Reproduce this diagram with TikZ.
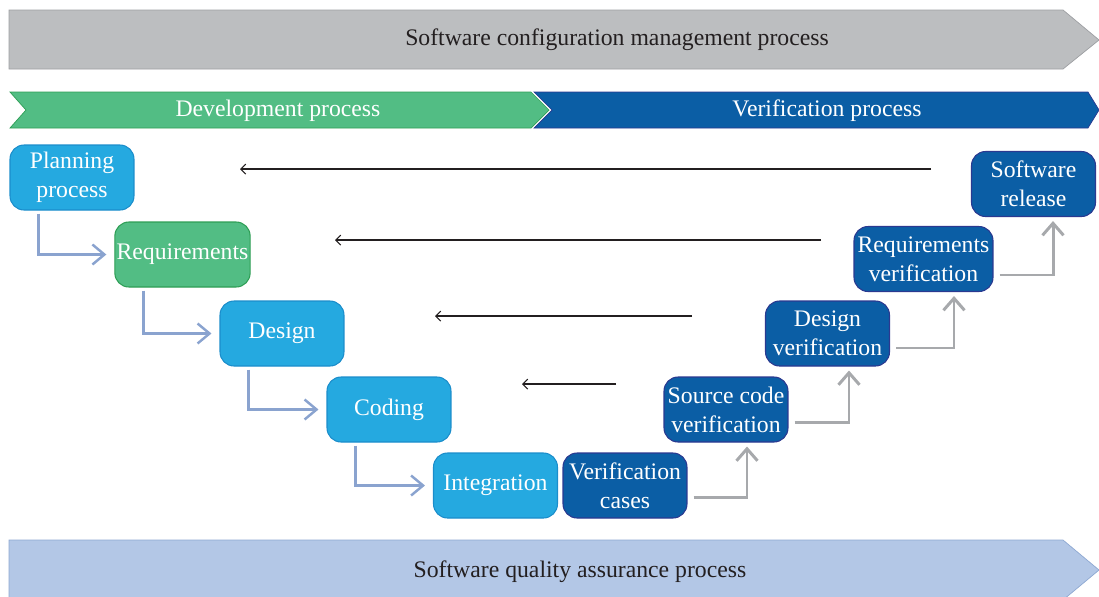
\documentclass[tikz,border=0pt]{standalone}
\usepackage{fontspec}
\setmainfont{Liberation Serif}
\usetikzlibrary{arrows.meta}
\definecolor{cfgGray}{HTML}{BCBEC0}
\definecolor{cfgGrayEdge}{HTML}{9D9FA2}
\definecolor{devGreen}{HTML}{52BD84}
\definecolor{devGreenEdge}{HTML}{2E9E55}
\definecolor{devCyan}{HTML}{25A9E0}
\definecolor{devCyanEdge}{HTML}{1B8DCB}
\definecolor{verBlue}{HTML}{0B5EA5}
\definecolor{verBlueEdge}{HTML}{2B3990}
\definecolor{sqaBlue}{HTML}{B3C7E6}
\definecolor{sqaBlueEdge}{HTML}{8EA8D2}
\definecolor{linkBlue}{HTML}{8AA3CF}
\definecolor{linkGray}{HTML}{A7A9AC}
\definecolor{inkBlack}{HTML}{231F20}

\begin{document}
\begin{tikzpicture}[x=0.02cm, y=-0.02cm, font=\fontsize{13.5}{16.5}\selectfont,
Box/.style={draw, rounded corners=0.28cm, line width=0.6pt, text=white, align=center, minimum width=2.48cm, minimum height=1.3cm, inner sep=1pt},
DevBox/.style={Box, fill=devCyan, draw=devCyanEdge},
ReqBox/.style={Box, fill=devGreen, draw=devGreenEdge},
VerBox/.style={Box, fill=verBlue, draw=verBlueEdge},
DevLink/.style={draw=linkBlue, line width=1.4pt, -{Straight Barb[length=0.24cm, width=0.4cm]}},
VerLink/.style={draw=linkGray, line width=1.7pt, -{Straight Barb[length=0.24cm, width=0.42cm]}},
BackArrow/.style={draw=inkBlack, line width=0.6pt, -{Straight Barb[length=0.1cm, width=0.2cm]}}]
\useasboundingbox (0,0) rectangle (1099,596);

% process banners
\path [fill=cfgGray, draw=cfgGrayEdge] (9,10) -- (1063,10) -- (1099,40) -- (1063,69) -- (9,69) -- cycle;
\node [text=inkBlack] (cfgText) at (617,40) {Software configuration management process};
\path [fill=devGreen, draw=devGreenEdge] (10,92) -- (531,92) -- (549,110) -- (531,128) -- (10,128) -- (26,110) -- cycle;
\node [text=white] (devText) at (278,111) {Development process};
\path [fill=verBlue, draw=verBlueEdge] (534,92) -- (1088,92) -- (1099,110) -- (1088,128) -- (534,128) -- (552,110) -- cycle;
\node [text=white] (verText) at (827,111) {Verification process};
\begin{scope}
\clip (0,0) rectangle (1099,596);
\path [fill=sqaBlue, draw=sqaBlueEdge] (9,540) -- (1063,540) -- (1099,570) -- (1063,600) -- (9,600) -- cycle;
\end{scope}
\node [text=inkBlack] (sqaText) at (580,572) {Software quality assurance process};

% V-model steps
\node [DevBox] (Plan) at (72,177.5) {Planning\\process};
\node [ReqBox, minimum width=2.7cm] (Req) at (182.5,254.5) {Requirements};
\node [DevBox] (Des) at (282,333.5) {Design};
\node [DevBox] (Cod) at (389,409.5) {Coding};
\node [DevBox] (Int) at (495.5,485.5) {Integration};
\node [VerBox] (VerCases) at (625,485.5) {Verification\\cases};
\node [VerBox] (SrcVer) at (726,409.5) {Source code\\verification};
\node [VerBox] (DesVer) at (827.5,333.5) {Design\\verification};
\node [VerBox, minimum width=2.78cm] (ReqVer) at (923.5,259) {Requirements\\verification};
\node [VerBox] (SwRel) at (1033.5,184) {Software\\release};

\foreach \from/\to in {Plan/Req, Req/Des, Des/Cod, Cod/Int}
  \draw [DevLink] ([shift={(0.58cm,-0.06cm)}]\from.south west) |- ([xshift=-0.16cm]\to.west);

\foreach \from/\to/\dy/\dx in {VerCases/SrcVer/0.23cm/0.42cm, SrcVer/DesVer/0.25cm/0.43cm, DesVer/ReqVer/0.29cm/0.61cm, ReqVer/SwRel/0.32cm/0.39cm}
  \draw [VerLink] ([shift={(0.12cm,-\dy)}]\from.east) -| ([shift={(\dx,-0.08cm)}]\to.south);

% feedback arrows
\foreach \i/\xs/\xe/\y in {1/931/240/169, 2/821/335/240, 3/692/435/316, 4/616/522/384} {
  \coordinate (BackStart\i) at (\xs,\y);
  \coordinate (BackEnd\i) at (\xe,\y);
  \draw [BackArrow] (BackStart\i) -- (BackEnd\i);
}
\end{tikzpicture}
\end{document}
